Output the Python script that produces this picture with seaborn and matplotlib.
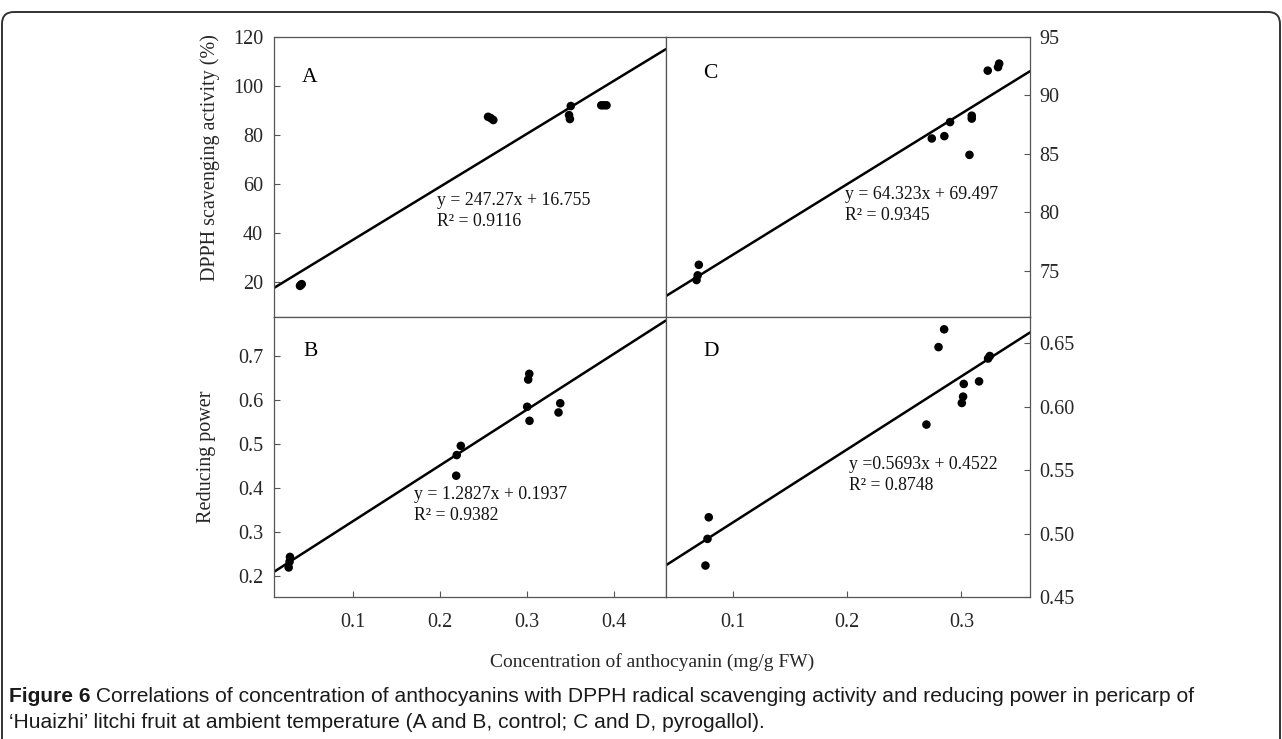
import matplotlib
matplotlib.use("Agg")
import matplotlib.pyplot as plt
import matplotlib.patches as mpatches
from matplotlib.transforms import IdentityTransform
import seaborn as sns
import pandas as pd

# ---------------- data ----------------
x_A = [0.039, 0.040, 0.041, 0.255, 0.258, 0.261, 0.348, 0.349, 0.350, 0.385, 0.388, 0.391]
y_A = [18.3, 18.7, 19.0, 87.3, 86.8, 86.0, 88.0, 86.4, 91.7, 92.0, 92.0, 92.0]

x_B = [0.026, 0.027, 0.0275, 0.2184, 0.219, 0.2237, 0.2999, 0.3011, 0.3023, 0.3026, 0.3359, 0.3379]
y_B = [0.219, 0.232, 0.243, 0.428, 0.475, 0.496, 0.585, 0.647, 0.660, 0.553, 0.572, 0.593]

x_C = [0.068, 0.069, 0.070, 0.274, 0.285, 0.290, 0.307, 0.309, 0.309, 0.323, 0.332, 0.333]
y_C = [74.2, 74.6, 75.5, 86.3, 86.5, 87.7, 84.9, 88.0, 88.25, 92.1, 92.4, 92.7]

x_D = [0.0758, 0.0776, 0.0787, 0.2693, 0.2799, 0.2848, 0.3003, 0.3014, 0.302, 0.3154, 0.3233, 0.3248]
y_D = [0.475, 0.496, 0.513, 0.586, 0.647, 0.661, 0.603, 0.608, 0.618, 0.620, 0.638, 0.640]

panel_labels = ["A", "B", "C", "D"]
equations = [
    "y = 247.27x + 16.755\nR\u00b2 = 0.9116",
    "y = 1.2827x + 0.1937\nR\u00b2 = 0.9382",
    "y = 64.323x + 69.497\nR\u00b2 = 0.9345",
    "y =0.5693x + 0.4522\nR\u00b2 = 0.8748",
]
ticks_A = [20, 40, 60, 80, 100, 120]
ticks_B = [0.2, 0.3, 0.4, 0.5, 0.6, 0.7]
ticks_C = [75, 80, 85, 90, 95]
ticks_D = [0.45, 0.50, 0.55, 0.60, 0.65]
xticks_left = [0.1, 0.2, 0.3, 0.4]
xticks_right = [0.1, 0.2, 0.3]

ylabel_top = "DPPH scavenging activity (%)"
ylabel_bottom = "Reducing power"
xlabel = "Concentration of anthocyanin (mg/g FW)"
caption_bold = "Figure 6"
caption_line1 = " Correlations of concentration of anthocyanins with DPPH radical scavenging activity and reducing power in pericarp of"
caption_line2 = "\u2018Huaizhi\u2019 litchi fruit at ambient temperature (A and B, control; C and D, pyrogallol)."

# ---------------- style ----------------
sns.set_theme(style="white")
plt.rcParams["font.family"] = ["Liberation Serif", "DejaVu Serif"]
plt.rcParams["axes.edgecolor"] = "#555555"
plt.rcParams["axes.linewidth"] = 0.9

W, H = 1282, 739
fig = plt.figure(figsize=(W / 100, H / 100), dpi=100)
fig.patch.set_facecolor("white")

def fx(px):
    return px / W

def fy(py):
    return 1 - py / H

xl0, xm, xr = 274.3, 665.7, 1030.0
yt, ymid, yb = 36.7, 317.0, 597.3

axA = fig.add_axes([fx(xl0), fy(ymid), fx(xm - xl0), (ymid - yt) / H])
axB = fig.add_axes([fx(xl0), fy(yb), fx(xm - xl0), (yb - ymid) / H])
axC = fig.add_axes([fx(xm), fy(ymid), fx(xr - xm), (ymid - yt) / H])
axD = fig.add_axes([fx(xm), fy(yb), fx(xr - xm), (yb - ymid) / H])

cfg = [
    (axA, x_A, y_A, (0.0095, 0.459), (5.6, 120), ticks_A, "left", None, "{:g}"),
    (axB, x_B, y_B, (0.0095, 0.459), (0.151, 0.7895), ticks_B, "left", xticks_left, "{:.1f}"),
    (axC, x_C, y_C, (0.041, 0.360), (71.04, 95), ticks_C, "right", None, "{:g}"),
    (axD, x_D, y_D, (0.041, 0.360), (0.45, 0.6707), ticks_D, "right", xticks_right, "{:.2f}"),
]

tick_fs = 14.5
for ax, xs, ys, xlim, ylim, yt_, side, xt_, fmt in cfg:
    ax.set_xlim(*xlim)
    ax.set_ylim(*ylim)
    df = pd.DataFrame({"x": xs, "y": ys})
    sns.regplot(data=df, x="x", y="y", ax=ax, ci=None, truncate=False,
                scatter_kws=dict(s=38, color="black", edgecolor="none", alpha=1, zorder=3),
                line_kws=dict(color="black", lw=1.8, zorder=2))
    ax.set_xlim(*xlim)
    ax.set_ylim(*ylim)
    ax.set_xlabel("")
    ax.set_ylabel("")
    ax.set_facecolor("white")
    for s in ax.spines.values():
        s.set_visible(True)
        s.set_color("#555555")
        s.set_linewidth(0.9)
    ax.set_yticks(yt_)
    ax.set_yticklabels([fmt.format(v) for v in yt_], fontsize=tick_fs)
    if side == "right":
        ax.yaxis.tick_right()
        ax.tick_params(axis="y", which="both", left=False, right=True,
                       labelleft=False, labelright=True, direction="in",
                       length=4, width=0.8, color="#555555", pad=7)
    else:
        ax.tick_params(axis="y", which="both", left=True, right=False,
                       direction="in", length=4, width=0.8, color="#555555", pad=8)
    if xt_ is None:
        ax.set_xticks([])
    else:
        ax.set_xticks(xt_)
        ax.set_xticklabels(["{:.1f}".format(v) for v in xt_], fontsize=tick_fs)
        ax.tick_params(axis="x", which="both", bottom=True, direction="in",
                       length=4, width=0.8, color="#555555", pad=11)
    ax.grid(False)

# panel letters and equations (figure pixel positions)
letter_pos = [(310, 77), (311, 351), (710, 74), (711, 351)]
eq_pos = [(437, 192), (414, 486), (845, 186), (849, 456)]
for lab, (px, py) in zip(panel_labels, letter_pos):
    fig.text(fx(px), fy(py), lab, fontsize=15.5, ha="center", va="center", color="black")
for eq, (px, py) in zip(equations, eq_pos):
    fig.text(fx(px), fy(py), eq, fontsize=12.8, ha="left", va="top", color="#111111",
             linespacing=1.3)

# axis labels
fig.text(fx(210), fy(158), ylabel_top, rotation=90, fontsize=14.5, ha="center", va="center")
fig.text(fx(207), fy(457), ylabel_bottom, rotation=90, fontsize=14.5, ha="center", va="center")
fig.text(fx(652), fy(662), xlabel, fontsize=14, ha="center", va="center")

# caption
cap_family = ["Liberation Sans Narrow", "Liberation Sans", "DejaVu Sans"]
cap_fs = 15.1
t_bold = fig.text(fx(9), fy(697), caption_bold, fontsize=cap_fs, fontweight="bold",
                  family=cap_family, ha="left", va="center", color="#1a1a1a")
fig.canvas.draw()
bb = t_bold.get_window_extent(renderer=fig.canvas.get_renderer())
fig.text(bb.x1 / W, fy(697), caption_line1, fontsize=cap_fs, family=cap_family,
         ha="left", va="center", color="#1a1a1a")
fig.text(fx(9), fy(722), caption_line2, fontsize=cap_fs, family=cap_family,
         ha="left", va="center", color="#1a1a1a")

# rounded frame around the figure (bottom edge falls outside the image)
frame = mpatches.FancyBboxPatch((2, -30), W - 4, H - 12 + 30,
                                boxstyle="round,pad=0,rounding_size=12",
                                transform=IdentityTransform(), fill=False,
                                edgecolor="#333333", linewidth=1.4)
fig.add_artist(frame)

fig.savefig("out.png", dpi=100, facecolor="white")
